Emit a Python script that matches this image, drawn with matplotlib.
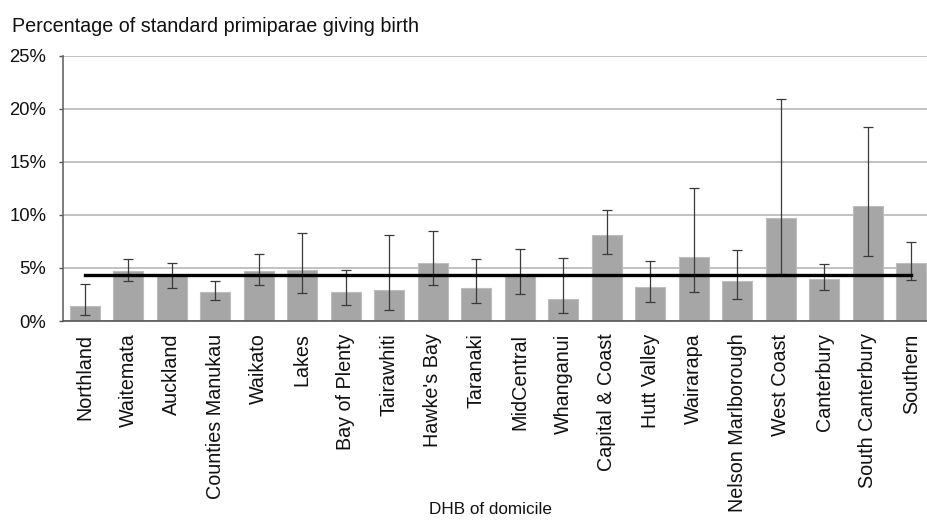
import numpy as np
import matplotlib
matplotlib.use('Agg')
from matplotlib import pyplot as plt
from matplotlib.ticker import FuncFormatter

plt.rcParams['font.family'] = ['Liberation Sans', 'DejaVu Sans']

# DHB data (percent)
dhbs = ['Northland', 'Waitemata', 'Auckland', 'Counties Manukau', 'Waikato',
        'Lakes', 'Bay of Plenty', 'Tairawhiti', "Hawke's Bay", 'Taranaki',
        'MidCentral', 'Whanganui', 'Capital & Coast', 'Hutt Valley', 'Wairarapa',
        'Nelson Marlborough', 'West Coast', 'Canterbury', 'South Canterbury', 'Southern']
rate = [1.45, 4.7, 4.3, 2.75, 4.7, 4.85, 2.75, 2.9, 5.45, 3.1,
        4.2, 2.1, 8.1, 3.25, 6.05, 3.75, 9.75, 3.95, 10.8, 5.45]
ci_low = [0.55, 3.75, 3.15, 2.0, 3.4, 2.65, 1.55, 1.0, 3.4, 1.65,
          2.5, 0.75, 6.3, 1.8, 2.75, 2.1, 4.4, 2.9, 6.1, 3.9]
ci_high = [3.5, 5.85, 5.45, 3.75, 6.35, 8.3, 4.8, 8.1, 8.45, 5.85,
           6.75, 5.95, 10.5, 5.7, 12.55, 6.65, 20.9, 5.4, 18.3, 7.4]
national = [4.3, 4.3, 4.3, 4.3, 4.3, 4.3, 4.3, 4.3, 4.3, 4.3,
            4.3, 4.3, 4.3, 4.3, 4.3, 4.3, 4.3, 4.3, 4.3, 4.3]

x = np.arange(len(dhbs))
rate = np.array(rate)
yerr = [rate - np.array(ci_low), np.array(ci_high) - rate]

fig = plt.figure(figsize=(9.28, 5.24), dpi=100)
ax = fig.add_axes([63/928, 1-321/524, 870/928, (321-55.7)/524])

ax.bar(x, rate, width=0.69, color='#a6a6a6', edgecolor='#bdbdbd', linewidth=0.8, zorder=2)
ax.errorbar(x, rate, yerr=yerr, fmt='none', ecolor='#3a3a3a', elinewidth=0.9,
            capsize=3.5, capthick=0.9, zorder=3)
ax.plot(x, national, color='black', lw=2.4, zorder=4)

ax.set_xlim(-0.5, len(dhbs) - 0.5)
ax.set_ylim(0, 25)
ax.set_yticks([0, 5, 10, 15, 20, 25])
ax.yaxis.set_major_formatter(FuncFormatter(lambda v, p: '%d%%' % v))
ax.yaxis.grid(True, color='#bdbdbd', lw=1.3, zorder=0)
ax.set_axisbelow(True)

ax.set_xticks(x)
ax.set_xticklabels(dhbs, rotation=90, fontsize=14.2, color='#111111')
ax.tick_params(axis='x', length=0, pad=9)
ax.tick_params(axis='y', length=3, width=1, color='#555555', pad=9, labelsize=13.3, labelcolor='#111111')

for s in ['top', 'right']:
    ax.spines[s].set_visible(False)
ax.spines['left'].set_color('#666666')
ax.spines['left'].set_linewidth(1.2)
ax.spines['bottom'].set_color('#555555')
ax.spines['bottom'].set_linewidth(1.2)

fig.text(12/928, 1-27/524, 'Percentage of standard primiparae giving birth',
         fontsize=14.2, color='#111111', va='center', ha='left')
fig.text(491/928, 1-510/524, 'DHB of domicile', fontsize=12.3, color='#111111',
         va='center', ha='center')

plt.savefig('out.png', dpi=100)
